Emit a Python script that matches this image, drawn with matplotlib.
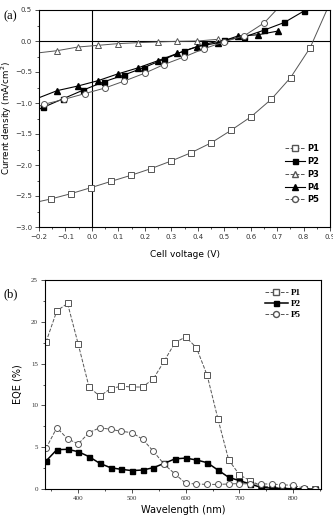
import matplotlib
matplotlib.use('Agg')
import matplotlib.pyplot as plt
from matplotlib.lines import Line2D
from matplotlib.ticker import MultipleLocator

# (a) J-V curves, voltage (V) and current density (mA/cm2)
p1_v = [-0.2, -0.155, -0.08, -0.004, 0.073, 0.148, 0.223, 0.300, 0.376, 0.452,
        0.526, 0.602, 0.678, 0.751, 0.825, 0.887]
p1_j = [-2.59, -2.548, -2.463, -2.366, -2.263, -2.166, -2.059, -1.935, -1.80, -1.64,
        -1.44, -1.22, -0.94, -0.59, -0.108, 0.49]
p2_v = [-0.2, -0.184, -0.108, -0.032, 0.044, 0.120, 0.196, 0.272, 0.348, 0.424,
        0.500, 0.576, 0.652, 0.728, 0.800]
p2_j = [-1.10, -1.07, -0.93, -0.79, -0.66, -0.55, -0.43, -0.295, -0.161, -0.054,
        0.016, 0.065, 0.177, 0.30, 0.48]
p3_v = [-0.2, -0.131, -0.053, 0.023, 0.097, 0.173, 0.248, 0.323, 0.399, 0.475]
p3_j = [-0.19, -0.156, -0.097, -0.07, -0.043, -0.027, -0.016, -0.005, 0.0, 0.027]
p4_v = [-0.2, -0.131, -0.053, 0.023, 0.097, 0.173, 0.248, 0.323, 0.399, 0.475,
        0.551, 0.627, 0.703]
p4_j = [-0.915, -0.80, -0.726, -0.64, -0.532, -0.435, -0.32, -0.20, -0.09, -0.03,
        0.08, 0.10, 0.16]
p5_v = [-0.2, -0.18, -0.104, -0.028, 0.048, 0.123, 0.199, 0.272, 0.348, 0.424,
        0.498, 0.576, 0.652, 0.697]
p5_j = [-1.05, -1.02, -0.94, -0.85, -0.76, -0.645, -0.52, -0.38, -0.258, -0.124,
        -0.016, 0.085, 0.295, 0.5]

# (b) EQE spectra, wavelength (nm) and EQE (%)
wl = [340, 360, 380, 400, 420, 440, 460, 480, 500, 520, 540, 560, 580, 600, 620,
      640, 660, 680, 700, 720, 740, 760, 780, 800, 820, 840]
eqe_p1 = [17.6, 21.3, 22.2, 17.3, 12.2, 11.1, 12.0, 12.3, 12.2, 12.2, 13.2, 15.3,
          17.5, 18.2, 16.9, 13.6, 8.4, 3.5, 1.7, 1.0, 0.4, 0.2, 0.1, 0.05, 0.05, 0.0]
eqe_p2 = [3.35, 4.7, 4.75, 4.46, 3.87, 3.07, 2.55, 2.35, 2.2, 2.27, 2.55, 3.07,
          3.6, 3.7, 3.47, 3.15, 2.27, 1.4, 1.0, 0.6, 0.2, 0.1, 0.05, 0.03, 0.02, 0.0]
eqe_p5 = [4.87, 7.33, 6.0, 5.4, 6.74, 7.33, 7.14, 6.9, 6.74, 5.94, 4.5, 2.95,
          1.8, 0.68, 0.6, 0.55, 0.55, 0.6, 0.65, 0.6, 0.6, 0.6, 0.5, 0.45, 0.1, 0.0]

serif = 'Liberation Serif'
fig = plt.figure(figsize=(3.33, 5.19), dpi=100)

# ---- panel (a)
ax1 = fig.add_axes([39/333, 1-227/519, 291/333, 217/519])
ax1.axhline(0, color='black', lw=0.8)
ax1.axvline(0, color='black', lw=0.8)
lc = '#555555'
ax1.plot(p1_v, p1_j, '-', color=lc, lw=0.7, marker='s', mfc='white', mec=lc, ms=4, mew=0.7,
         markevery=list(range(1, len(p1_v) - 1)))
ax1.plot(p2_v, p2_j, '-', color='black', lw=0.8, marker='s', mfc='black', mec='black', ms=3.6,
         markevery=list(range(1, len(p2_v))))
ax1.plot(p3_v, p3_j, '-', color=lc, lw=0.7, marker='^', mfc='white', mec=lc, ms=4.3, mew=0.7,
         markevery=list(range(1, len(p3_v))))
ax1.plot(p4_v, p4_j, '-', color='black', lw=0.8, marker='^', mfc='black', mec='black', ms=4.3,
         markevery=list(range(1, len(p4_v))))
ax1.plot(p5_v, p5_j, '-', color=lc, lw=0.7, marker='o', mfc='white', mec=lc, ms=4.3, mew=0.7,
         markevery=list(range(1, len(p5_v) - 1)))
ax1.xaxis.set_major_locator(MultipleLocator(0.1))
ax1.xaxis.set_minor_locator(MultipleLocator(0.05))
ax1.yaxis.set_major_locator(MultipleLocator(0.5))
ax1.yaxis.set_minor_locator(MultipleLocator(0.25))
ax1.set_xlim(-0.2, 0.9)
ax1.set_ylim(-3.0, 0.5)
ax1.tick_params(which='both', direction='out', labelsize=5, colors='#333333', width=0.6)
ax1.tick_params(which='major', length=3, pad=2)
ax1.tick_params(which='minor', length=1.5)
ax1.set_xlabel('Cell voltage (V)', fontsize=6.5, labelpad=7)
ax1.set_ylabel('Current density (mA/cm$^2$)', fontsize=6.3)
ax1.yaxis.set_label_coords(-0.085, 0.5)
for s in ax1.spines.values():
    s.set_linewidth(0.8)
fig.text(4/333, 1-16/519, '(a)', fontsize=9, family=serif, va='center')

handles_a = [
    Line2D([], [], ls='--', color=lc, lw=0.7, marker='s', mfc='white', mec=lc, ms=4),
    Line2D([], [], ls='-', color='black', lw=0.8, marker='s', mfc='black', mec='black', ms=3.6),
    Line2D([], [], ls='--', color=lc, lw=0.7, marker='^', mfc='white', mec=lc, ms=4.3),
    Line2D([], [], ls='-', color='black', lw=0.8, marker='^', mfc='black', mec='black', ms=4.3),
    Line2D([], [], ls='--', color=lc, lw=0.7, marker='o', mfc='white', mec=lc, ms=4.3),
]
ax1.legend(handles_a, ['P1', 'P2', 'P3', 'P4', 'P5'], loc='lower right', frameon=False,
           prop={'size': 6, 'weight': 'bold'}, handlelength=2.4, labelspacing=0.45,
           borderaxespad=0.5, handletextpad=0.3, bbox_to_anchor=(0.99, 0.07))

# ---- panel (b)
ax2 = fig.add_axes([45/333, 1-489/519, 276/333, 209/519])
ax2.plot(wl, eqe_p1, '--', color=lc, lw=0.7, marker='s', mfc='white', mec=lc, ms=3.8, mew=0.7)
ax2.plot(wl, eqe_p2, '-', color='black', lw=1.1, marker='s', mfc='black', mec='black', ms=3.6)
ax2.plot(wl, eqe_p5, '--', color=lc, lw=0.7, marker='o', mfc='white', mec=lc, ms=4.3, mew=0.7)
ax2.set_xlim(338, 852)
ax2.set_ylim(0, 25)
ax2.xaxis.set_major_locator(MultipleLocator(100))
ax2.xaxis.set_minor_locator(MultipleLocator(50))
ax2.yaxis.set_major_locator(MultipleLocator(5))
ax2.yaxis.set_minor_locator(MultipleLocator(2.5))
ax2.tick_params(which='both', direction='out', labelsize=5, colors='#333333', width=0.6)
ax2.tick_params(which='major', length=3, pad=2)
ax2.tick_params(which='minor', length=1.5)
for lab in ax2.get_xticklabels() + ax2.get_yticklabels():
    lab.set_family(serif)
ax2.set_xlabel('Wavelength (nm)', fontsize=7, labelpad=3)
ax2.set_ylabel('EQE (%)', fontsize=7)
ax2.yaxis.set_label_coords(-0.08, 0.5)
for s in ax2.spines.values():
    s.set_linewidth(0.8)
fig.text(3/333, 1-294/519, '(b)', fontsize=9, family=serif, va='center')

handles_b = [
    Line2D([], [], ls='--', color=lc, lw=0.7, marker='s', mfc='white', mec=lc, ms=3.8),
    Line2D([], [], ls='-', color='black', lw=1.1, marker='s', mfc='black', mec='black', ms=3.6),
    Line2D([], [], ls='--', color=lc, lw=0.7, marker='o', mfc='white', mec=lc, ms=4.3),
]
ax2.legend(handles_b, ['P1', 'P2', 'P5'], loc='upper right', frameon=False,
           prop={'size': 6.5, 'weight': 'bold', 'family': serif}, handlelength=2.6,
           labelspacing=0.3, borderaxespad=0.6, handletextpad=0.3,
           bbox_to_anchor=(0.96, 1.0))

fig.savefig('out.png', dpi=100)
